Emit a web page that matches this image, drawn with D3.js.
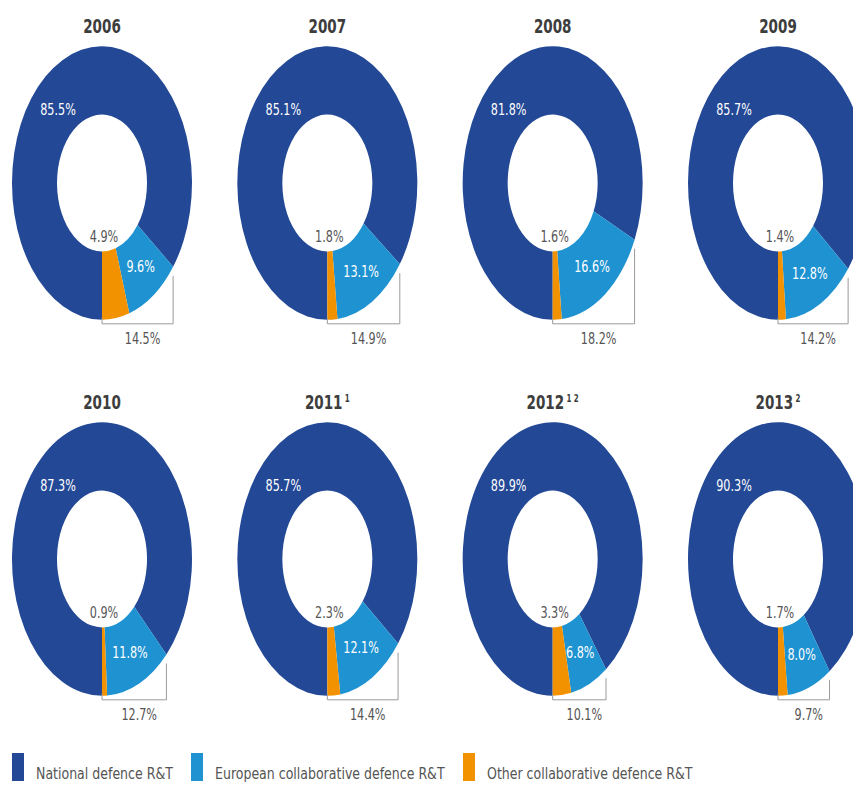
<!DOCTYPE html>
<html>
<head>
<meta charset="utf-8">
<script src="https://cdn.jsdelivr.net/npm/d3@7"></script>
<style>
  html, body { margin: 0; padding: 0; background: #ffffff; }
  svg { display: block; }
  text { font-family: "DejaVu Sans Condensed", "DejaVu Sans", sans-serif; font-stretch: condensed; }
</style>
</head>
<body>
<svg id="chart" width="853" height="785"></svg>
<script>
// ---- data ----
const years = ["2006", "2007", "2008", "2009", "2010", "2011", "2012", "2013"];
const yearNotes = ["", "", "", "", "", "1", "1 2", "2"];
const seriesNames = ["National defence R&T", "European collaborative defence R&T", "Other collaborative defence R&T"];
const seriesColors = ["#234896", "#1f93d1", "#f39200"];
const national = [85.5, 85.1, 81.8, 85.7, 87.3, 85.7, 89.9, 90.3];
const european = [9.6, 13.1, 16.6, 12.8, 11.8, 12.1, 6.8, 8.0];
const other = [4.9, 1.8, 1.6, 1.4, 0.9, 2.3, 3.3, 1.7];
const collaborative = [14.5, 14.9, 18.2, 14.2, 12.7, 14.4, 10.1, 9.7];

// ---- helpers ----
function condense(sel, factor) {
  sel.each(function () {
    const L = this.getComputedTextLength();
    d3.select(this).attr("textLength", L * factor).attr("lengthAdjust", "spacingAndGlyphs");
  });
  return sel;
}

// ---- layout ----
const svg = d3.select("#chart");
const colX = d3.scalePoint().domain([0, 1, 2, 3]).range([102, 778]);
const rowY = d3.scalePoint().domain([0, 1]).range([183, 559]);
const rOuter = 90, rInner = 45, yStretch = 1.52;
const fmt = v => d3.format(".1f")(v) + "%";
const labelFactor = 0.83;

const pie = d3.pie().sort(null).value(d => d.value)
  .startAngle(Math.PI).endAngle(3 * Math.PI);
const arc = d3.arc().innerRadius(rInner).outerRadius(rOuter);
const midArc = d3.arc().innerRadius((rInner + rOuter) / 2).outerRadius((rInner + rOuter) / 2);
const color = d3.scaleOrdinal().domain(seriesNames).range(seriesColors);

years.forEach((yr, i) => {
  const cx = colX(i % 4), cy = rowY(Math.floor(i / 4));
  const values = [national[i], european[i], other[i]];
  const data = seriesNames.map((s, k) => ({ series: s, value: values[k] }));
  const arcs = pie(data);

  const g = svg.append("g");

  // title (horizontally condensed by transform; optional superscript note)
  const titleY = cy - 150;
  const t = g.append("text")
    .attr("transform", `translate(${cx},${titleY}) scale(0.79,1)`)
    .attr("text-anchor", "middle")
    .attr("fill", "#3d3d3d")
    .attr("font-weight", "bold")
    .attr("font-size", 19);
  t.append("tspan").text(yr);
  if (yearNotes[i]) {
    t.append("tspan").attr("font-size", 10).attr("dx", 3).attr("dy", -7).text(yearNotes[i]);
  }

  // donut (elliptical)
  const dg = g.append("g").attr("transform", `translate(${cx},${cy}) scale(1,${yStretch})`);
  dg.selectAll("path").data(arcs).join("path")
    .attr("d", arc)
    .attr("fill", d => color(d.data.series));

  // national label
  condense(g.append("text")
    .attr("x", cx - 44).attr("y", cy - 73).attr("dy", "0.35em")
    .attr("text-anchor", "middle").attr("fill", "#ffffff")
    .attr("font-size", 15)
    .text(fmt(national[i])), labelFactor);

  // european label at centroid
  const c = midArc.centroid(arcs[1]);
  condense(g.append("text")
    .attr("x", cx + c[0]).attr("y", cy + c[1] * yStretch).attr("dy", "0.35em")
    .attr("text-anchor", "middle").attr("fill", "#ffffff")
    .attr("font-size", 15)
    .text(fmt(european[i])), labelFactor);

  // other label inside hole
  condense(g.append("text")
    .attr("x", cx + 2).attr("y", cy + 54).attr("dy", "0.35em")
    .attr("text-anchor", "middle").attr("fill", "#555555")
    .attr("font-size", 15)
    .text(fmt(other[i])), labelFactor);

  // bracket for collaborative total
  const a0 = arcs[1].startAngle;
  const px = cx + rOuter * Math.sin(a0);
  const py = cy - rOuter * Math.cos(a0) * yStretch;
  const by = cy + rOuter * yStretch + 4;
  g.append("path")
    .attr("d", `M${cx},${cy + rOuter * yStretch - 2}V${by}H${px}V${py + 9}`)
    .attr("fill", "none").attr("stroke", "#9a9a9a").attr("stroke-width", 1);
  condense(g.append("text")
    .attr("x", (cx + px) / 2 + 5).attr("y", by + 20)
    .attr("text-anchor", "middle").attr("fill", "#555555")
    .attr("font-size", 15)
    .text(fmt(collaborative[i])), labelFactor);
});

// ---- legend ----
const legendX = [12, 191, 463];
const lg = svg.append("g");
seriesNames.forEach((s, k) => {
  lg.append("rect").attr("x", legendX[k]).attr("y", 753).attr("width", 12).attr("height", 28)
    .attr("fill", color(s));
  condense(lg.append("text").attr("x", legendX[k] + 24).attr("y", 779)
    .attr("fill", "#555555").attr("font-size", 15.5)
    .text(s), 0.9);
});
</script>
</body>
</html>
